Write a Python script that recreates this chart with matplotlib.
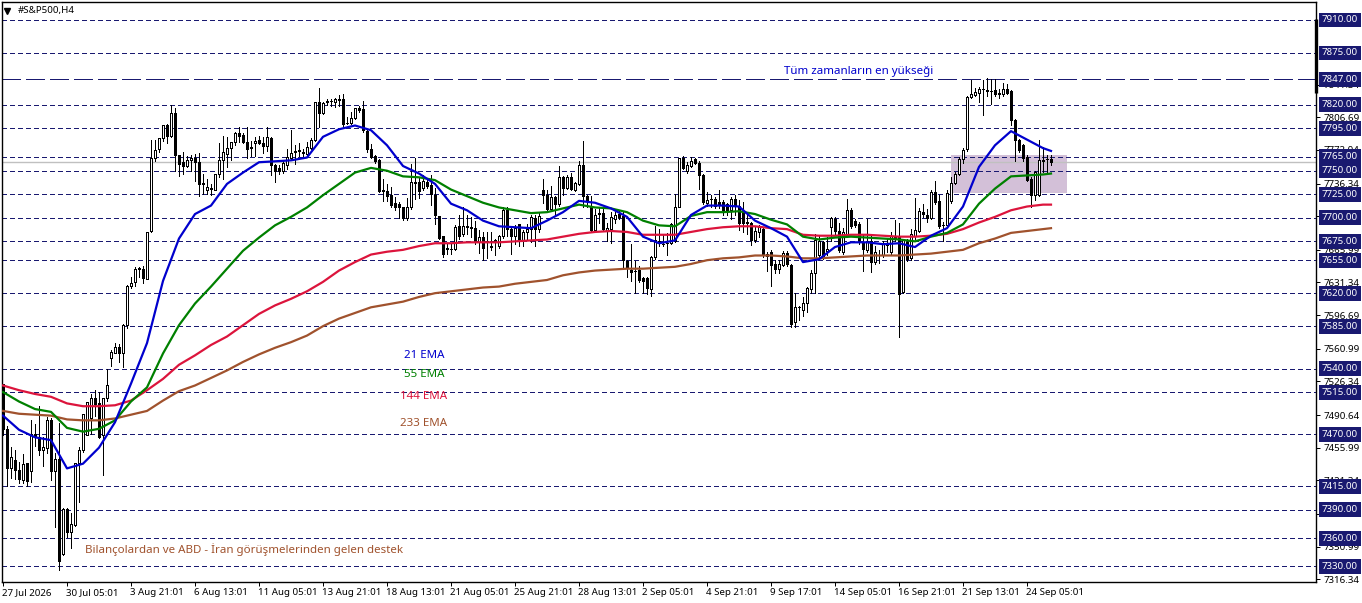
import matplotlib
matplotlib.use("Agg")
import matplotlib.pyplot as plt
from matplotlib.patches import Rectangle
from matplotlib.transforms import ScaledTranslation, blended_transform_factory

plt.rcParams['font.family'] = ['Noto Sans', 'DejaVu Sans']
plt.rcParams['lines.scale_dashes'] = False

# -------------------------------
# Data
# -------------------------------
opens = [
    7524, 7476, 7434, 7443, 7432, 7422, 7440, 7431, 7470, 7467,
    7453, 7456, 7485, 7431, 7444, 7343, 7391, 7366, 7374, 7440,
    7454, 7469, 7488, 7509, 7503, 7469, 7509, 7551, 7557, 7563,
    7557, 7586, 7628, 7632, 7647, 7646, 7635, 7686, 7764, 7773,
    7785, 7798, 7787, 7811, 7767, 7759, 7755, 7761, 7764, 7759,
    7737, 7729, 7731, 7730, 7746, 7761, 7768, 7774, 7780, 7790,
    7788, 7780, 7775, 7779, 7783, 7779, 7776, 7785, 7756, 7753,
    7750, 7756, 7764, 7771, 7772, 7770, 7768, 7774, 7783, 7823,
    7811, 7824, 7824, 7823, 7825, 7826, 7801, 7801, 7806, 7817,
    7815, 7792, 7773, 7766, 7761, 7730, 7728, 7724, 7716, 7715,
    7711, 7700, 7712, 7738, 7738, 7732, 7738, 7735, 7724, 7702,
    7681, 7667, 7667, 7667, 7691, 7683, 7691, 7690, 7689, 7674,
    7680, 7675, 7670, 7675, 7670, 7681, 7708, 7688, 7681, 7693,
    7676, 7685, 7688, 7700, 7688, 7729, 7724, 7709, 7722, 7715,
    7743, 7732, 7743, 7729, 7736, 7756, 7723, 7713, 7687, 7704,
    7705, 7686, 7688, 7699, 7704, 7702, 7654, 7645, 7644, 7645,
    7636, 7636, 7624, 7658, 7675, 7672, 7673, 7673, 7675, 7712,
    7763, 7750, 7755, 7762, 7758, 7745, 7716, 7720, 7720, 7717,
    7717, 7715, 7708, 7720, 7713, 7706, 7696, 7695, 7676, 7685,
    7688, 7662, 7664, 7651, 7646, 7650, 7663, 7650, 7589, 7605,
    7602, 7610, 7624, 7641, 7660, 7674, 7665, 7690, 7699, 7686,
    7664, 7683, 7708, 7697, 7693, 7674, 7666, 7675, 7653, 7661,
    7660, 7672, 7664, 7680, 7681, 7621, 7674, 7657, 7681, 7686,
    7706, 7703, 7700, 7727, 7718, 7692, 7692, 7718, 7737, 7746,
    7762, 7773, 7828, 7830, 7833, 7837, 7836, 7835, 7836, 7833,
    7831, 7837, 7835, 7804, 7783, 7777, 7765, 7741, 7724, 7724,
    7760, 7762, 7762,
]
highs = [
    7524, 7479, 7457, 7453, 7441, 7449, 7440, 7485, 7481, 7500,
    7467, 7489, 7488, 7450, 7482, 7392, 7392, 7387, 7440, 7457,
    7492, 7505, 7513, 7517, 7515, 7509, 7540, 7560, 7567, 7566,
    7587, 7629, 7637, 7648, 7648, 7649, 7685, 7783, 7783, 7785,
    7799, 7800, 7820, 7817, 7767, 7770, 7766, 7767, 7768, 7769,
    7747, 7741, 7736, 7746, 7779, 7787, 7786, 7781, 7791, 7796,
    7790, 7796, 7782, 7786, 7787, 7786, 7796, 7786, 7757, 7756,
    7761, 7773, 7793, 7777, 7779, 7773, 7780, 7785, 7823, 7838,
    7823, 7826, 7826, 7827, 7830, 7831, 7807, 7812, 7817, 7819,
    7824, 7793, 7778, 7767, 7762, 7741, 7736, 7733, 7722, 7717,
    7712, 7721, 7757, 7763, 7743, 7745, 7741, 7745, 7732, 7702,
    7681, 7672, 7672, 7692, 7703, 7712, 7703, 7701, 7697, 7687,
    7685, 7685, 7685, 7677, 7682, 7711, 7712, 7689, 7692, 7693,
    7687, 7693, 7703, 7703, 7706, 7741, 7730, 7734, 7723, 7755,
    7744, 7745, 7748, 7738, 7760, 7782, 7724, 7723, 7709, 7711,
    7711, 7695, 7706, 7706, 7708, 7707, 7655, 7672, 7654, 7649,
    7637, 7637, 7659, 7691, 7688, 7682, 7684, 7694, 7725, 7763,
    7766, 7759, 7765, 7764, 7760, 7746, 7727, 7724, 7722, 7729,
    7719, 7716, 7722, 7724, 7719, 7717, 7703, 7696, 7690, 7692,
    7690, 7664, 7666, 7655, 7655, 7665, 7665, 7651, 7620, 7606,
    7616, 7627, 7645, 7683, 7681, 7675, 7680, 7701, 7701, 7694,
    7689, 7720, 7710, 7699, 7696, 7683, 7699, 7681, 7670, 7666,
    7675, 7677, 7685, 7698, 7694, 7677, 7678, 7688, 7721, 7710,
    7715, 7709, 7730, 7739, 7724, 7696, 7729, 7743, 7749, 7765,
    7774, 7829, 7846, 7838, 7839, 7846, 7848, 7847, 7847, 7837,
    7843, 7842, 7836, 7805, 7784, 7778, 7767, 7743, 7750, 7783,
    7775, 7767, 7767,
]
lows = [
    7469, 7415, 7424, 7423, 7419, 7418, 7415, 7420, 7458, 7448,
    7437, 7450, 7422, 7372, 7326, 7342, 7361, 7350, 7373, 7398,
    7451, 7469, 7470, 7490, 7466, 7427, 7506, 7543, 7556, 7547,
    7542, 7583, 7625, 7628, 7637, 7631, 7635, 7685, 7760, 7770,
    7782, 7779, 7786, 7750, 7744, 7746, 7754, 7750, 7739, 7723,
    7725, 7725, 7724, 7730, 7743, 7741, 7754, 7761, 7777, 7780,
    7779, 7764, 7766, 7766, 7778, 7769, 7771, 7745, 7738, 7747,
    7748, 7752, 7761, 7757, 7766, 7764, 7765, 7773, 7782, 7796,
    7810, 7820, 7819, 7818, 7819, 7795, 7800, 7800, 7805, 7812,
    7791, 7770, 7764, 7758, 7727, 7718, 7718, 7712, 7708, 7700,
    7698, 7698, 7709, 7720, 7721, 7730, 7732, 7714, 7693, 7678,
    7658, 7662, 7662, 7666, 7678, 7681, 7683, 7680, 7672, 7663,
    7655, 7657, 7666, 7661, 7668, 7679, 7681, 7662, 7672, 7670,
    7670, 7678, 7674, 7670, 7685, 7716, 7707, 7707, 7702, 7713,
    7724, 7731, 7730, 7728, 7735, 7712, 7711, 7686, 7685, 7695,
    7687, 7675, 7673, 7695, 7699, 7646, 7637, 7633, 7620, 7632,
    7620, 7619, 7617, 7656, 7670, 7670, 7661, 7672, 7674, 7711,
    7752, 7748, 7754, 7757, 7731, 7715, 7713, 7712, 7710, 7710,
    7703, 7703, 7699, 7703, 7687, 7685, 7683, 7671, 7674, 7680,
    7658, 7644, 7628, 7641, 7641, 7649, 7649, 7584, 7584, 7591,
    7596, 7600, 7620, 7620, 7658, 7656, 7660, 7675, 7683, 7664,
    7662, 7680, 7689, 7690, 7672, 7644, 7664, 7642, 7651, 7652,
    7658, 7664, 7662, 7675, 7574, 7620, 7654, 7655, 7678, 7685,
    7701, 7696, 7699, 7715, 7689, 7675, 7691, 7716, 7736, 7745,
    7758, 7771, 7827, 7829, 7823, 7809, 7829, 7821, 7829, 7827,
    7829, 7831, 7798, 7760, 7770, 7760, 7739, 7712, 7719, 7723,
    7749, 7747, 7756,
]
closes = [
    7476, 7434, 7446, 7432, 7423, 7439, 7421, 7471, 7467, 7453,
    7457, 7485, 7431, 7444, 7336, 7391, 7366, 7375, 7440, 7454,
    7492, 7505, 7509, 7502, 7467, 7509, 7522, 7558, 7563, 7557,
    7586, 7628, 7631, 7646, 7646, 7636, 7685, 7764, 7772, 7785,
    7798, 7787, 7811, 7767, 7757, 7755, 7761, 7764, 7759, 7736,
    7736, 7733, 7732, 7746, 7761, 7770, 7774, 7780, 7790, 7787,
    7780, 7773, 7774, 7782, 7779, 7776, 7786, 7756, 7750, 7750,
    7758, 7765, 7769, 7770, 7771, 7769, 7775, 7783, 7823, 7811,
    7822, 7823, 7824, 7826, 7826, 7800, 7801, 7806, 7817, 7814,
    7793, 7773, 7765, 7760, 7728, 7728, 7723, 7714, 7712, 7711,
    7700, 7712, 7738, 7737, 7728, 7739, 7734, 7725, 7703, 7679,
    7662, 7668, 7667, 7690, 7681, 7691, 7690, 7689, 7674, 7680,
    7668, 7674, 7669, 7676, 7681, 7708, 7688, 7681, 7689, 7676,
    7685, 7688, 7701, 7688, 7702, 7724, 7709, 7722, 7715, 7743,
    7732, 7743, 7731, 7737, 7756, 7723, 7718, 7687, 7703, 7705,
    7688, 7689, 7701, 7703, 7701, 7655, 7647, 7643, 7644, 7634,
    7633, 7625, 7658, 7676, 7675, 7672, 7673, 7693, 7712, 7763,
    7753, 7756, 7760, 7758, 7745, 7717, 7719, 7720, 7713, 7715,
    7708, 7708, 7720, 7713, 7694, 7695, 7695, 7676, 7686, 7690,
    7660, 7659, 7650, 7646, 7651, 7663, 7651, 7587, 7605, 7605,
    7610, 7625, 7641, 7676, 7675, 7658, 7667, 7700, 7686, 7666,
    7685, 7708, 7691, 7692, 7674, 7667, 7675, 7653, 7664, 7661,
    7672, 7671, 7681, 7678, 7619, 7676, 7656, 7683, 7687, 7707,
    7704, 7700, 7727, 7717, 7691, 7692, 7726, 7737, 7747, 7762,
    7772, 7828, 7831, 7834, 7837, 7837, 7835, 7835, 7831, 7831,
    7837, 7833, 7804, 7783, 7772, 7763, 7740, 7724, 7749, 7761,
    7761, 7762, 7759,
]

# EMA values, read every fourth bar
ema_bars = list(range(0, 261, 4)) + [262]
ema21 = [
    7490, 7475, 7467, 7464, 7434, 7439, 7456, 7483, 7524, 7567,
    7633, 7678, 7704, 7713, 7736, 7748, 7759, 7760, 7761, 7764,
    7786, 7794, 7798, 7793, 7777, 7755, 7747, 7736, 7715, 7708,
    7697, 7691, 7690, 7689, 7697, 7706, 7718, 7716, 7710, 7701,
    7680, 7673, 7676, 7703, 7713, 7713, 7712, 7697, 7689, 7680,
    7653, 7656, 7669, 7674, 7674, 7672, 7673, 7669, 7681, 7689,
    7712, 7754, 7777, 7792, 7783, 7774, 7771,
]
ema55 = [
    7515, 7505, 7497, 7494, 7477, 7473, 7476, 7485, 7505, 7520,
    7556, 7586, 7609, 7627, 7646, 7665, 7679, 7692, 7701, 7711,
    7724, 7736, 7748, 7753, 7750, 7744, 7743, 7740, 7730, 7723,
    7716, 7711, 7708, 7705, 7706, 7710, 7714, 7711, 7710, 7706,
    7697, 7692, 7691, 7702, 7706, 7706, 7707, 7704, 7698, 7693,
    7680, 7677, 7679, 7680, 7679, 7678, 7677, 7675, 7680, 7684,
    7693, 7715, 7731, 7744, 7745, 7746, 7747,
]
ema144 = [
    7522, 7517, 7513, 7510, 7503, 7500, 7500, 7501, 7506, 7517,
    7529, 7544, 7554, 7565, 7574, 7586, 7598, 7607, 7614, 7622,
    7632, 7644, 7653, 7661, 7664, 7666, 7670, 7673, 7673, 7674,
    7674, 7674, 7675, 7676, 7677, 7680, 7683, 7685, 7686, 7685,
    7682, 7682, 7682, 7685, 7688, 7690, 7691, 7691, 7689, 7688,
    7682, 7681, 7681, 7682, 7682, 7681, 7680, 7680, 7681, 7683,
    7688, 7695, 7701, 7708, 7712, 7714, 7714,
]
ema233 = [
    7495, 7492, 7491, 7490, 7486, 7485, 7485, 7487, 7491, 7495,
    7506, 7516, 7522, 7530, 7538, 7547, 7555, 7562, 7568, 7575,
    7585, 7593, 7599, 7605, 7608, 7611, 7616, 7620, 7622, 7624,
    7626, 7627, 7630, 7632, 7634, 7639, 7642, 7644, 7645, 7646,
    7646, 7647, 7648, 7651, 7655, 7657, 7658, 7660, 7660, 7659,
    7657, 7657, 7658, 7659, 7660, 7660, 7660, 7661, 7662, 7664,
    7666, 7673, 7678, 7684, 7686, 7688, 7689,
]

# Horizontal levels drawn on the chart
levels = [7910, 7875, 7820, 7795, 7765, 7750, 7725, 7700, 7675, 7655,
          7620, 7585, 7540, 7515, 7470, 7415, 7390, 7360, 7330]
ath_level = 7847

# Axis labels
price_ticks = [7841.34, 7806.69, 7772.04, 7736.34, 7701.69, 7665.99, 7631.34,
               7596.69, 7560.99, 7526.34, 7490.64, 7455.99, 7421.34, 7385.64,
               7350.99, 7316.34]
time_labels = ["27 Jul 2026", "30 Jul 05:01", "3 Aug 21:01", "6 Aug 13:01",
               "11 Aug 05:01", "13 Aug 21:01", "18 Aug 13:01", "21 Aug 05:01",
               "25 Aug 21:01", "28 Aug 13:01", "2 Sep 05:01", "4 Sep 21:01",
               "9 Sep 17:01", "14 Sep 05:01", "16 Sep 21:01", "21 Sep 13:01",
               "24 Sep 05:01"]

# -------------------------------
# Colours
# -------------------------------
NAVY = "#191970"
BLUE = "#0000cd"
GREEN = "#008000"
CRIMSON = "#dc143c"
SIENNA = "#a0522d"
LABEL_SIZE = 7.0
TEXT_SIZE = 8.3
PX = 0.72  # one pixel in points

# -------------------------------
# Figure
# -------------------------------
W, H = 1362, 603
fig = plt.figure(figsize=(W / 100, H / 100), dpi=100, facecolor="white")
ax = fig.add_axes([2 / W, (H - 582) / H, 1314 / W, 580 / H])
ax.set_xlim(-0.25, 328.25)
ax.set_ylim(7313.4, 7929.1)
ax.set_axisbelow(True)
for spine in ax.spines.values():
    spine.set_linewidth(1.0)
    spine.set_color("black")

# shaded zone
ax.add_patch(Rectangle((237, 7726), 29, 40.5, facecolor="#d3c0d8", edgecolor="none", zorder=1))

# levels
bid = closes[-1]
ax.axhline(bid, color="#c0c0c0", lw=1.0, zorder=1.2)
ax.hlines(levels, -0.25, 328.25, colors=NAVY, lw=PX, linestyles=[(0, (3.4, 2.36))], zorder=1.3,
          antialiased=False, capstyle="butt")
ax.hlines(ath_level, -0.25, 328.25, colors=NAVY, lw=PX, linestyles=[(0, (13.0, 4.28))], zorder=1.3,
          antialiased=False, capstyle="butt")

# candles
bars = range(len(closes))
ax.vlines(bars, lows, highs, colors="black", lw=PX, zorder=2, antialiased=False)
up = [i for i in bars if closes[i] >= opens[i]]
down = [i for i in bars if closes[i] < opens[i]]
ax.bar(up, [closes[i] - opens[i] for i in up], bottom=[opens[i] for i in up], width=0.5,
       facecolor="white", edgecolor="black", lw=PX, zorder=2.1, antialiased=False)
ax.bar(down, [closes[i] - opens[i] for i in down], bottom=[opens[i] for i in down], width=0.5,
       facecolor="black", edgecolor="black", lw=PX, zorder=2.1, antialiased=False)

# moving averages
ax.plot(ema_bars, ema233, color=SIENNA, lw=1.6, zorder=3)
ax.plot(ema_bars, ema144, color=CRIMSON, lw=1.6, zorder=3.1)
ax.plot(ema_bars, ema55, color=GREEN, lw=1.6, zorder=3.2)
ax.plot(ema_bars, ema21, color=BLUE, lw=1.6, zorder=3.3)

# notes on the chart
ax.text(214, 7855, "Tüm zamanların en yükseği", color=BLUE, fontsize=TEXT_SIZE, ha="center", va="center")
ax.text(105.25, 7554, "21 EMA", color=BLUE, fontsize=TEXT_SIZE, ha="center", va="center")
ax.text(105.25, 7534, "55 EMA", color=GREEN, fontsize=TEXT_SIZE, ha="center", va="center")
ax.text(105.25, 7510.5, "144 EMA", color=CRIMSON, fontsize=TEXT_SIZE, ha="center", va="center")
ax.text(105.25, 7482, "233 EMA", color=SIENNA, fontsize=TEXT_SIZE, ha="center", va="center")
ax.text(20.5, 7348, "Bilançolardan ve ABD - İran görüşmelerinden gelen destek",
        color=SIENNA, fontsize=TEXT_SIZE, ha="left", va="center")

# title and little menu triangle
ax.text(18 / 1314 - 0.0015, 0.985, "#S&P500,H4", color="black", fontsize=LABEL_SIZE,
        ha="left", va="center", transform=ax.transAxes)
ax.plot([4.5 / 1314], [0.985], marker="v", ms=4.5, color="black", transform=ax.transAxes, clip_on=False)

# time axis
ax.set_xticks(list(range(0, 16 * len(time_labels), 16)))
ax.set_xticklabels(time_labels, ha="left", fontsize=LABEL_SIZE)
ax.tick_params(axis="x", length=2.6, width=PX, pad=1.8)
shift = ScaledTranslation(-1.5 / 100, 0, fig.dpi_scale_trans)
for lab in ax.get_xticklabels():
    lab.set_transform(lab.get_transform() + shift)

# price axis
ax.yaxis.tick_right()
ax.set_yticks(price_ticks)
ax.set_yticklabels([f"{p:.2f}" for p in price_ticks], fontsize=LABEL_SIZE)
ax.tick_params(axis="y", length=2.6, width=PX, pad=2.6)

# price boxes
trans = blended_transform_factory(ax.transAxes, ax.transData)
box_x = 1 + 6 / 1314
ax.text(box_x, bid, f"{bid:.2f}", color="white", fontsize=LABEL_SIZE, ha="left", va="center",
        transform=trans, clip_on=False, zorder=5,
        bbox=dict(boxstyle="square,pad=0.3", facecolor="black", edgecolor="none"))
for lev in levels + [ath_level]:
    ax.text(box_x, lev, f"{lev:.2f}", color="white", fontsize=LABEL_SIZE, ha="left", va="center",
            transform=trans, clip_on=False, zorder=6,
            bbox=dict(boxstyle="square,pad=0.3", facecolor=NAVY, edgecolor="none"))

# thick mark on the axis at the top right
ax.vlines(328.25, 7832, 7911, colors="black", lw=2.4, zorder=4, clip_on=False)

fig.savefig("out.png", dpi=100, facecolor="white")
